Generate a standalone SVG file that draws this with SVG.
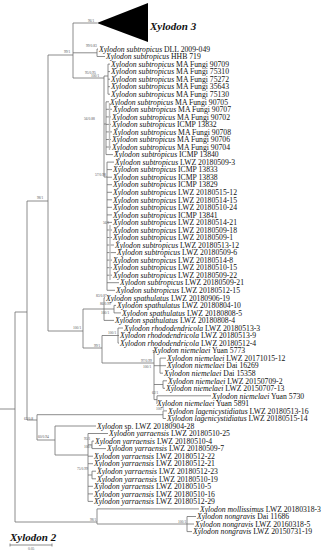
<svg xmlns="http://www.w3.org/2000/svg" width="324" height="550" viewBox="0 0 324 550">
<style>
.b{fill:none;stroke:#6e6e6e;stroke-width:0.8}
.t{font-family:"Liberation Serif",serif;font-size:7.7px;fill:#111}
.s{font-family:"Liberation Serif",serif;font-size:3.6px;fill:#555}
.i{font-style:italic}
.h{font-family:"Liberation Serif",serif;font-size:11px;font-weight:bold;font-style:italic;fill:#111}
</style>
<rect width="324" height="550" fill="#fff"/>
<g id="connectors">
<path class="b" d="M0 409H15M15 312V522M15 312H27M27 201V420M27 201H48M48 55V331M48 55H73M73 23V78M73 23H97M73 52.8H97M97 49V56.5M97 49H98M97 56.5H105"/>
<path class="b" d="M73 78H104M104 76V177M104 76H108M108 64.1V94.2M108 64.1H110M108 71.6H110M108 79.2H110M108 86.7H110M108 94.2H110M104 124H106M106 101.8V154.6M106 101.8H109M106 109.3H112M106 116.9H111M106 124.4H111M106 131.9H112M106 139.5H111M106 147H111M106 154.6H113"/>
<path class="b" d="M104 177H107M107 162.1V290.3M107 162.1H114M107 169.6H112M107 177.2H112M107 184.7H112M107 192.3H112M107 199.8H112M107 207.3H112M107 214.9H112M107 222.4H112M107 230H112M107 237.5H112M107 245H114M107 252.6H116M107 260.1H112M107 267.7H112M107 275.2H112M107 282.7H119M107 290.3H115"/>
<path stroke="#bdbdbd" stroke-width="1.4" fill="none" d="M109.5 103V150M110 225V280"/>
<path class="b" d="M48 331H83M83 309V348M83 309H104M104 297.8V320.4M104 297.8H105M104 309H114M114 305.4V312.9M114 305.4H116M114 312.9H121M104 320.4H114"/>
<path class="b" d="M83 348H102M102 335.5V363M102 335.5H118M118 328V343.1M118 328H123M118 335.5H119M118 343.1H119M102 363H154M154 350.6V399.6M154 350.6H152.5M154 365.7H160M160 358.1V373.2M160 358.1H166M160 365.7H166M160 373.2H163M154 384.5H163M163 380.8V388.3M163 380.8H167M163 388.3H165M154 399.6H157M157 395.8V403.4M157 395.8H211M157 403.4H156.5"/>
<path class="b" d="M27 420H37M37 414.7V440M37 414.7H163M163 410.9V418.5M163 410.9H167M163 418.5H166M37 440H55M55 426V455M55 426H96M55 455H88M88 433.5V501.4M88 433.5H108M88 444.8H92M92 441.1V448.6M92 441.1H94M92 448.6H106M88 456.2H93M88 463.7H93M88 475H92M92 471.2V478.8M92 471.2H96M92 478.8H96M88 486.3H93M88 493.9H93M88 501.4H93"/>
<path class="b" d="M15 522H97M97 508.9V524M97 508.9H199M97 524H187M187 516.5V531.6M187 516.5H196M187 524H194M187 531.6H192"/>
<path class="b" d="M10 545H52M10 543.5V546.5M52 543.5V546.5"/>
</g>
<g id="clade-xylodon3"><path d="M97 23L148 3V42Z" fill="#000"/><text class="h" x="150" y="30">Xylodon 3</text></g>
<g id="clade-xylodon2"><text class="h" x="10" y="541">Xylodon 2</text><text class="s" x="28" y="549.5">0.05</text></g>
<g id="supports">
<text class="s" x="88" y="21.5">96/1</text>
<text class="s" x="64" y="53">99/1</text>
<text class="s" x="86" y="47">99/0.83</text>
<text class="s" x="85" y="74">95/0.95</text>
<text class="s" x="91" y="77">100/1</text>
<text class="s" x="84" y="120">56/0.88</text>
<text class="s" x="37" y="199">98/1</text>
<text class="s" x="95" y="176">57/0.98</text>
<text class="s" x="103" y="224">56/1</text>
<text class="s" x="96" y="297">83/0.87</text>
<text class="s" x="100" y="305">86/0.99</text>
<text class="s" x="101" y="314">100/1</text>
<text class="s" x="73" y="329">100/1</text>
<text class="s" x="108" y="334">100/1</text>
<text class="s" x="94" y="347">99/1</text>
<text class="s" x="141" y="362">97/0.99</text>
<text class="s" x="143" y="368">100/1</text>
<text class="s" x="152" y="394">62/1</text>
<text class="s" x="156" y="410">100/1</text>
<text class="s" x="24" y="420">63/0.8</text>
<text class="s" x="38" y="438">60/0.94</text>
<text class="s" x="84" y="440">95/1</text>
<text class="s" x="84" y="448">100/1</text>
<text class="s" x="77" y="470">75/0.99</text>
<text class="s" x="90" y="521">98/1</text>
<text class="s" x="178" y="523">100/1</text>
</g>
<g id="leaves">
<text id="n0" class="t" x="99" y="51.7"><tspan class="i">Xylodon subtropicus</tspan> DLL 2009-049</text>
<text id="n1" class="t" x="106" y="59.2"><tspan class="i">Xylodon subtropicus</tspan> HHB 719</text>
<text id="n2" class="t" x="111" y="66.8"><tspan class="i">Xylodon subtropicus</tspan> MA Fungi 90709</text>
<text id="n3" class="t" x="111" y="74.3"><tspan class="i">Xylodon subtropicus</tspan> MA Fungi 75310</text>
<text id="n4" class="t" x="111" y="81.9"><tspan class="i">Xylodon subtropicus</tspan> MA Fungi 75272</text>
<text id="n5" class="t" x="111" y="89.4"><tspan class="i">Xylodon subtropicus</tspan> MA Fungi 35643</text>
<text id="n6" class="t" x="111" y="96.9"><tspan class="i">Xylodon subtropicus</tspan> MA Fungi 75130</text>
<text id="n7" class="t" x="110" y="104.5"><tspan class="i">Xylodon subtropicus</tspan> MA Fungi 90705</text>
<text id="n8" class="t" x="113" y="112"><tspan class="i">Xylodon subtropicus</tspan> MA Fungi 90707</text>
<text id="n9" class="t" x="112" y="119.6"><tspan class="i">Xylodon subtropicus</tspan> MA Fungi 90702</text>
<text id="n10" class="t" x="112" y="127.1"><tspan class="i">Xylodon subtropicus</tspan> ICMP 13832</text>
<text id="n11" class="t" x="113" y="134.6"><tspan class="i">Xylodon subtropicus</tspan> MA Fungi 90708</text>
<text id="n12" class="t" x="112" y="142.2"><tspan class="i">Xylodon subtropicus</tspan> MA Fungi 90706</text>
<text id="n13" class="t" x="112" y="149.7"><tspan class="i">Xylodon subtropicus</tspan> MA Fungi 90704</text>
<text id="n14" class="t" x="114" y="157.3"><tspan class="i">Xylodon subtropicus</tspan> ICMP 13840</text>
<text id="n15" class="t" x="115" y="164.8"><tspan class="i">Xylodon subtropicus</tspan> LWZ 20180509-3</text>
<text id="n16" class="t" x="113" y="172.3"><tspan class="i">Xylodon subtropicus</tspan> ICMP 13833</text>
<text id="n17" class="t" x="113" y="179.9"><tspan class="i">Xylodon subtropicus</tspan> ICMP 13838</text>
<text id="n18" class="t" x="113" y="187.4"><tspan class="i">Xylodon subtropicus</tspan> ICMP 13829</text>
<text id="n19" class="t" x="113" y="195"><tspan class="i">Xylodon subtropicus</tspan> LWZ 20180515-12</text>
<text id="n20" class="t" x="113" y="202.5"><tspan class="i">Xylodon subtropicus</tspan> LWZ 20180514-15</text>
<text id="n21" class="t" x="113" y="210"><tspan class="i">Xylodon subtropicus</tspan> LWZ 20180510-24</text>
<text id="n22" class="t" x="113" y="217.6"><tspan class="i">Xylodon subtropicus</tspan> ICMP 13841</text>
<text id="n23" class="t" x="113" y="225.1"><tspan class="i">Xylodon subtropicus</tspan> LWZ 20180514-21</text>
<text id="n24" class="t" x="113" y="232.7"><tspan class="i">Xylodon subtropicus</tspan> LWZ 20180509-18</text>
<text id="n25" class="t" x="113" y="240.2"><tspan class="i">Xylodon subtropicus</tspan> LWZ 20180509-1</text>
<text id="n26" class="t" x="115" y="247.7"><tspan class="i">Xylodon subtropicus</tspan> LWZ 20180513-12</text>
<text id="n27" class="t" x="117" y="255.3"><tspan class="i">Xylodon subtropicus</tspan> LWZ 20180509-6</text>
<text id="n28" class="t" x="113" y="262.8"><tspan class="i">Xylodon subtropicus</tspan> LWZ 20180514-8</text>
<text id="n29" class="t" x="113" y="270.4"><tspan class="i">Xylodon subtropicus</tspan> LWZ 20180510-15</text>
<text id="n30" class="t" x="113" y="277.9"><tspan class="i">Xylodon subtropicus</tspan> LWZ 20180509-22</text>
<text id="n31" class="t" x="120" y="285.4"><tspan class="i">Xylodon subtropicus</tspan> LWZ 20180509-21</text>
<text id="n32" class="t" x="116" y="293"><tspan class="i">Xylodon subtropicus</tspan> LWZ 20180512-15</text>
<text id="n33" class="t" x="106" y="300.5"><tspan class="i">Xylodon spathulatus</tspan> LWZ 20180906-19</text>
<text id="n34" class="t" x="117" y="308.1"><tspan class="i">Xylodon spathulatus</tspan> LWZ 20180804-10</text>
<text id="n35" class="t" x="122" y="315.6"><tspan class="i">Xylodon spathulatus</tspan> LWZ 20180808-5</text>
<text id="n36" class="t" x="115" y="323.1"><tspan class="i">Xylodon spathulatus</tspan> LWZ 20180808-4</text>
<text id="n37" class="t" x="124" y="330.7"><tspan class="i">Xylodon rhododendricola</tspan> LWZ 20180513-3</text>
<text id="n38" class="t" x="120" y="338.2"><tspan class="i">Xylodon rhododendricola</tspan> LWZ 20180513-9</text>
<text id="n39" class="t" x="120" y="345.8"><tspan class="i">Xylodon rhododendricola</tspan> LWZ 20180512-4</text>
<text id="n40" class="t" x="153" y="353.3"><tspan class="i">Xylodon niemelaei</tspan> Yuan 5773</text>
<text id="n41" class="t" x="167" y="360.8"><tspan class="i">Xylodon niemelaei</tspan> LWZ 20171015-12</text>
<text id="n42" class="t" x="167" y="368.4"><tspan class="i">Xylodon niemelaei</tspan> Dai 16269</text>
<text id="n43" class="t" x="164" y="375.9"><tspan class="i">Xylodon niemelaei</tspan> Dai 15358</text>
<text id="n44" class="t" x="168" y="383.5"><tspan class="i">Xylodon niemelaei</tspan> LWZ 20150709-2</text>
<text id="n45" class="t" x="166" y="391"><tspan class="i">Xylodon niemelaei</tspan> LWZ 20150707-13</text>
<text id="n46" class="t" x="212" y="398.5"><tspan class="i">Xylodon niemelaei</tspan> Yuan 5730</text>
<text id="n47" class="t" x="157" y="406.1"><tspan class="i">Xylodon niemelaei</tspan> Yuan 5891</text>
<text id="n48" class="t" x="168" y="413.6"><tspan class="i">Xylodon lagenicystidiatus</tspan> LWZ 20180513-16</text>
<text id="n49" class="t" x="167" y="421.2"><tspan class="i">Xylodon lagenicystidiatus</tspan> LWZ 20180515-14</text>
<text id="n50" class="t" x="97" y="428.7"><tspan class="i">Xylodon</tspan> sp. LWZ 20180904-28</text>
<text id="n51" class="t" x="109" y="436.2"><tspan class="i">Xylodon yarraensis</tspan> LWZ 20180510-25</text>
<text id="n52" class="t" x="95" y="443.8"><tspan class="i">Xylodon yarraensis</tspan> LWZ 20180510-4</text>
<text id="n53" class="t" x="107" y="451.3"><tspan class="i">Xylodon yarraensis</tspan> LWZ 20180509-7</text>
<text id="n54" class="t" x="94" y="458.9"><tspan class="i">Xylodon yarraensis</tspan> LWZ 20180512-22</text>
<text id="n55" class="t" x="94" y="466.4"><tspan class="i">Xylodon yarraensis</tspan> LWZ 20180512-21</text>
<text id="n56" class="t" x="97" y="473.9"><tspan class="i">Xylodon yarraensis</tspan> LWZ 20180512-23</text>
<text id="n57" class="t" x="97" y="481.5"><tspan class="i">Xylodon yarraensis</tspan> LWZ 20180510-19</text>
<text id="n58" class="t" x="94" y="489"><tspan class="i">Xylodon yarraensis</tspan> LWZ 20180510-5</text>
<text id="n59" class="t" x="94" y="496.6"><tspan class="i">Xylodon yarraensis</tspan> LWZ 20180510-16</text>
<text id="n60" class="t" x="94" y="504.1"><tspan class="i">Xylodon yarraensis</tspan> LWZ 20180512-29</text>
<text id="n61" class="t" x="200" y="511.6"><tspan class="i">Xylodon mollissimus</tspan> LWZ 20180318-3</text>
<text id="n62" class="t" x="197" y="519.2"><tspan class="i">Xylodon nongravis</tspan> Dai 11686</text>
<text id="n63" class="t" x="195" y="526.7"><tspan class="i">Xylodon nongravis</tspan> LWZ 20160318-5</text>
<text id="n64" class="t" x="193" y="534.3"><tspan class="i">Xylodon nongravis</tspan> LWZ 20150731-19</text>
</g>
</svg>
